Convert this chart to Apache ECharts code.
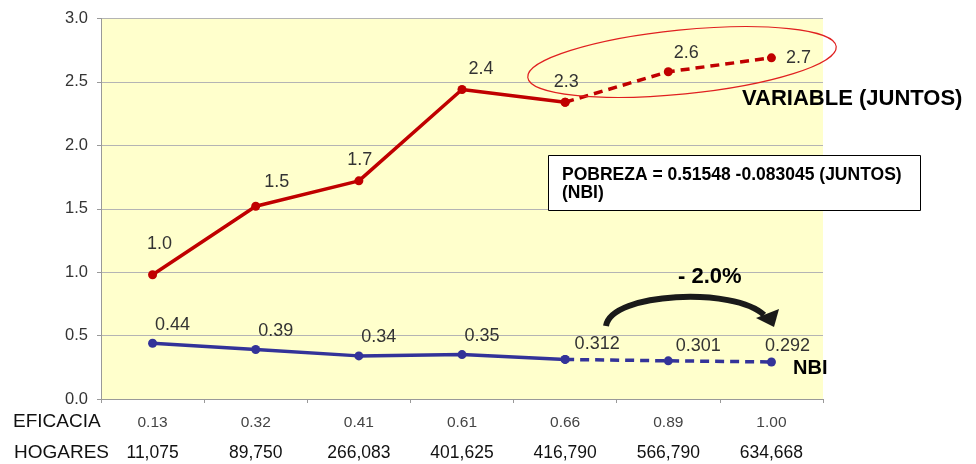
<!DOCTYPE html>
<html>
<head>
<meta charset="utf-8">
<script src="https://cdn.jsdelivr.net/npm/echarts@6/dist/echarts.min.js"></script>
<style>
html,body{margin:0;padding:0;background:#fff;}
#chart{width:976px;height:464px;}
</style>
</head>
<body>
<div id="chart"></div>
<script>
// ---- data ----
var eficacia = ['0.13','0.32','0.41','0.61','0.66','0.89','1.00'];
var hogares = ['11,075','89,750','266,083','401,625','416,790','566,790','634,668'];
var juntosValues = [0.98, 1.52, 1.72, 2.44, 2.34, 2.58, 2.69];
var juntosLabels = ['1.0','1.5','1.7','2.4','2.3','2.6','2.7'];
var nbiValues = [0.44, 0.39, 0.34, 0.35, 0.312, 0.301, 0.292];
var nbiLabels = ['0.44','0.39','0.34','0.35','0.312','0.301','0.292'];
var yTicks = [0, 0.5, 1.0, 1.5, 2.0, 2.5, 3.0];
var solidEnd = 4; // last observed index (solid), projections dashed after

var FONT = '"Liberation Sans", Arial, sans-serif';
var RED = '#C00000';
var BLUE = '#333399';

function splitSeries(values, labels, solid, labelCfg) {
  var out = [];
  for (var i = 0; i < values.length; i++) {
    var inRange = solid ? (i <= solidEnd) : (i >= solidEnd);
    var showLabel = solid ? (i <= solidEnd) : (i > solidEnd);
    if (!inRange) { out.push(null); continue; }
    var item = { value: values[i], label: { show: showLabel } };
    var extra = labelCfg(i);
    if (extra) { for (var k in extra) item.label[k] = extra[k]; }
    item.label.formatter = labels[i];
    out.push(item);
  }
  return out;
}

// label placement tweaks (styling, not data)
var redLabelCfg = function (i) {
  switch (i) {
    case 0: return { offset: [7, -10] };
    case 1: return { offset: [21, -4] };
    case 2: return { offset: [1, 0] };
    case 3: return { offset: [19, 0] };
    case 4: return { offset: [1, 0] };
    case 5: return { offset: [18, 2] };
    case 6: return { position: 'right', distance: 10, offset: [0, 0] };
  }
  return null;
};
var blueLabelCfg = function (i) {
  if (i === 4) return { offset: [32, 3] };
  if (i === 5) return { offset: [30, 4] };
  if (i === 6) return { offset: [16, 3] };
  return null;
};

var chart = echarts.init(document.getElementById('chart'), null, { renderer: 'canvas' });

var commonLabel = {
  position: 'top',
  distance: 7,
  fontSize: 18,
  color: '#333',
  fontFamily: FONT
};

var option = {
  animation: false,
  backgroundColor: '#fff',
  textStyle: { fontFamily: FONT },
  grid: {
    left: 101, right: 153, top: 18.5, bottom: 65,
    show: true, backgroundColor: '#FFFFCC', borderWidth: 0
  },
  xAxis: {
    type: 'category',
    data: eficacia,
    boundaryGap: true,
    axisLine: { show: true, lineStyle: { color: '#999', width: 1 } },
    axisTick: { show: true, length: 4, lineStyle: { color: '#999' } },
    splitLine: { show: false },
    axisLabel: {
      margin: 9,
      interval: 0,
      formatter: function (v, idx) {
        return '{a|' + v + '}\n{b|' + hogares[idx] + '}';
      },
      rich: {
        a: { fontSize: 15.5, color: '#444', lineHeight: 30, fontFamily: FONT },
        b: { fontSize: 17.5, color: '#111', lineHeight: 30, fontFamily: FONT }
      }
    }
  },
  yAxis: {
    type: 'value',
    min: yTicks[0],
    max: yTicks[yTicks.length - 1],
    interval: 0.5,
    axisLine: { show: true, lineStyle: { color: '#999', width: 1 } },
    axisTick: { show: true, length: 4, lineStyle: { color: '#999' } },
    splitLine: { show: true, lineStyle: { color: '#B4B4B4', width: 1 } },
    axisLabel: {
      fontSize: 16.5, color: '#333', margin: 13, fontFamily: FONT,
      formatter: function (v) { return v.toFixed(1); }
    }
  },
  series: [
    {
      type: 'line', name: 'JUNTOS', z: 3,
      data: splitSeries(juntosValues, juntosLabels, true, redLabelCfg),
      symbol: 'circle', symbolSize: 9,
      itemStyle: { color: RED },
      lineStyle: { color: RED, width: 3.5 },
      label: commonLabel
    },
    {
      type: 'line', name: 'JUNTOS proy', z: 3,
      data: splitSeries(juntosValues, juntosLabels, false, redLabelCfg),
      symbol: 'circle', symbolSize: 9,
      itemStyle: { color: RED },
      lineStyle: { color: RED, width: 3.5, type: [9, 6] },
      label: commonLabel
    },
    {
      type: 'line', name: 'NBI', z: 3,
      data: splitSeries(nbiValues, nbiLabels, true, blueLabelCfg),
      symbol: 'circle', symbolSize: 9,
      itemStyle: { color: BLUE },
      lineStyle: { color: BLUE, width: 3.5 },
      label: Object.assign({}, commonLabel, { offset: [20, 0], distance: 5 })
    },
    {
      type: 'line', name: 'NBI proy', z: 3,
      data: splitSeries(nbiValues, nbiLabels, false, blueLabelCfg),
      symbol: 'circle', symbolSize: 9,
      itemStyle: { color: BLUE },
      lineStyle: { color: BLUE, width: 3.5, type: [9, 6] },
      label: Object.assign({}, commonLabel, { offset: [20, 0], distance: 5 })
    }
  ],
  graphic: [
    { type: 'text', left: 13, top: 412, style: { text: 'EFICACIA', font: '19px ' + FONT, fill: '#111' } },
    { type: 'text', left: 14, top: 443, style: { text: 'HOGARES', font: '19px ' + FONT, fill: '#111' } },
    {
      type: 'ellipse', x: 682, y: 62, rotation: 0.1, z: 10,
      shape: { cx: 0, cy: 0, rx: 155, ry: 32 },
      style: { fill: 'none', stroke: '#E02020', lineWidth: 1.2 }
    },
    { type: 'text', left: 742, top: 88, z: 10, style: { text: 'VARIABLE (JUNTOS)', font: 'bold 22px ' + FONT, fill: '#000' } },
    { type: 'text', left: 793, top: 358, z: 10, style: { text: 'NBI', font: 'bold 20px ' + FONT, fill: '#000' } },
    {
      type: 'rect', z: 10,
      shape: { x: 548.5, y: 155.5, width: 372, height: 55 },
      style: { fill: '#fff', stroke: '#000', lineWidth: 1 }
    },
    { type: 'text', left: 562, top: 166, z: 11, style: { text: 'POBREZA = 0.51548 -0.083045 (JUNTOS)', font: 'bold 17.5px ' + FONT, fill: '#000' } },
    { type: 'text', left: 562, top: 184, z: 11, style: { text: '(NBI)', font: 'bold 17.5px ' + FONT, fill: '#000' } },
    { type: 'text', left: 678, top: 266, z: 10, style: { text: '- 2.0%', font: 'bold 22px ' + FONT, fill: '#000' } },
    {
      type: 'bezierCurve', z: 10,
      shape: { x1: 606, y1: 326, cpx1: 611, cpy1: 292, cpx2: 735, cpy2: 287, x2: 764, y2: 315 },
      style: { stroke: '#1a1a1a', lineWidth: 6, fill: 'none' }
    },
    {
      type: 'polygon', z: 10,
      shape: { points: [[756, 318], [779, 309], [774, 327]] },
      style: { fill: '#1a1a1a' }
    }
  ]
};

chart.setOption(option);
</script>
</body>
</html>
